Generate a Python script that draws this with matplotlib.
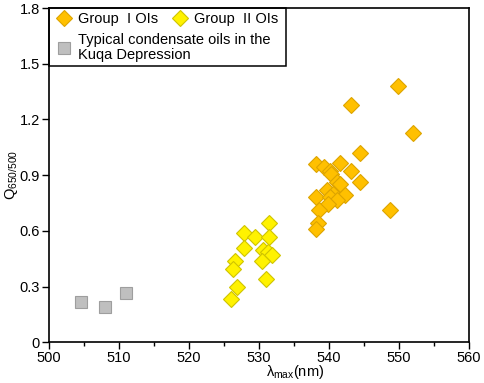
import matplotlib
matplotlib.use("Agg")
import matplotlib.pyplot as plt
from matplotlib.lines import Line2D
from matplotlib.patches import Rectangle

plt.rcParams['font.family'] = ['Liberation Sans', 'DejaVu Sans']
plt.rcParams['mathtext.fontset'] = 'custom'
plt.rcParams['mathtext.rm'] = 'Liberation Sans'
plt.rcParams['mathtext.it'] = 'Liberation Sans'

# Group I oils (orange diamonds)
g1_x = [549.9, 543.1, 552.0, 544.4, 541.6, 538.2, 539.3, 540.1, 543.1, 540.3,
        541.1, 541.6, 544.4, 539.7, 540.6, 538.1, 540.2, 542.3, 541.2, 539.8,
        538.6, 548.7, 538.5, 538.1]
g1_y = [1.38, 1.28, 1.125, 1.02, 0.965, 0.962, 0.945, 0.925, 0.922, 0.905,
        0.865, 0.855, 0.862, 0.82, 0.80, 0.785, 0.785, 0.792, 0.767, 0.745,
        0.715, 0.713, 0.645, 0.61]
# Group II oils (yellow diamonds)
g2_x = [531.5, 527.9, 529.4, 531.5, 527.9, 530.6, 531.3, 531.8, 530.4, 526.6,
        526.3, 531.0, 526.8, 526.0]
g2_y = [0.644, 0.587, 0.566, 0.566, 0.508, 0.497, 0.488, 0.47, 0.438, 0.44,
        0.393, 0.34, 0.296, 0.233]
# Typical condensate oils in the Kuqa Depression (grey squares)
g3_x = [504.6, 508.0, 511.0]
g3_y = [0.215, 0.19, 0.268]

labels = ["Group  I OIs", "Group  II OIs",
          "Typical condensate oils in the\nKuqa Depression"]
xticks = [500, 510, 520, 530, 540, 550, 560]
yticks = [0, 0.3, 0.6, 0.9, 1.2, 1.5, 1.8]

c1, e1 = '#FFC000', '#DDA400'
c2, e2 = '#FFF200', '#CFC400'
c3, e3 = '#BFBFBF', '#9E9E9E'

fig = plt.figure(figsize=(4.84, 3.83), dpi=100)
ax = fig.add_axes([49/484, 1-342.3/383, 420/484, 334.3/383])

ms_d = 7.8
ms_s = 8.5
ax.plot(g3_x, g3_y, 's', ms=ms_s, mfc=c3, mec=e3, mew=0.8, zorder=3)
ax.plot(g2_x, g2_y, 'D', ms=ms_d, mfc=c2, mec=e2, mew=0.8, zorder=3)
ax.plot(g1_x, g1_y, 'D', ms=ms_d, mfc=c1, mec=e1, mew=0.8, zorder=3)

ax.set_xlim(500, 560)
ax.set_ylim(0, 1.8)
ax.set_xticks(xticks)
ax.set_xticks(range(505, 560, 10), minor=True)
ax.set_yticks(yticks)
ax.set_yticklabels(['0', '0.3', '0.6', '0.9', '1.2', '1.5', '1.8'])
ax.tick_params(axis='both', which='major', direction='out', length=5, width=1.0,
               labelsize=10.5, pad=1.5)
ax.tick_params(axis='x', which='minor', direction='out', length=3, width=1.0)
for s in ax.spines.values():
    s.set_linewidth(1.2)

ax.set_xlabel(r'$\lambda_{\rm max}$(nm)', fontsize=10.5)
ax.xaxis.set_label_coords(0.586, -0.062)
ax.set_ylabel(r'Q$_{650/500}$', fontsize=10.5)
ax.yaxis.set_label_coords(-0.069, 0.5)

hA = Line2D([], [], ls='none', marker='D', ms=ms_d, mfc=c1, mec=e1, mew=0.8)
hB = Line2D([], [], ls='none', marker='D', ms=ms_d, mfc=c2, mec=e2, mew=0.8)
hC = Line2D([], [], ls='none', marker='s', ms=ms_s, mfc=c3, mec=e3, mew=0.8)

leg1 = ax.legend([hA, hB], labels[:2], ncol=2, loc='upper left',
                 bbox_to_anchor=(-0.005, 1.018), frameon=False, fontsize=10.5,
                 handlelength=1.0, handletextpad=0.45, columnspacing=1.0,
                 borderaxespad=0.3)
ax.add_artist(leg1)
leg2 = ax.legend([hC], labels[2:], loc='upper left',
                 bbox_to_anchor=(-0.005, 0.955), frameon=False, fontsize=10.5,
                 handlelength=1.0, handletextpad=0.45, borderaxespad=0.3)
for t in leg2.get_texts():
    t.set_linespacing(1.1)

ax.add_patch(Rectangle((0, 0.8274), 0.5636, 0.1726, transform=ax.transAxes,
                       fill=False, ec='black', lw=1.1, zorder=5, clip_on=False))

fig.savefig('out.png', dpi=100)
